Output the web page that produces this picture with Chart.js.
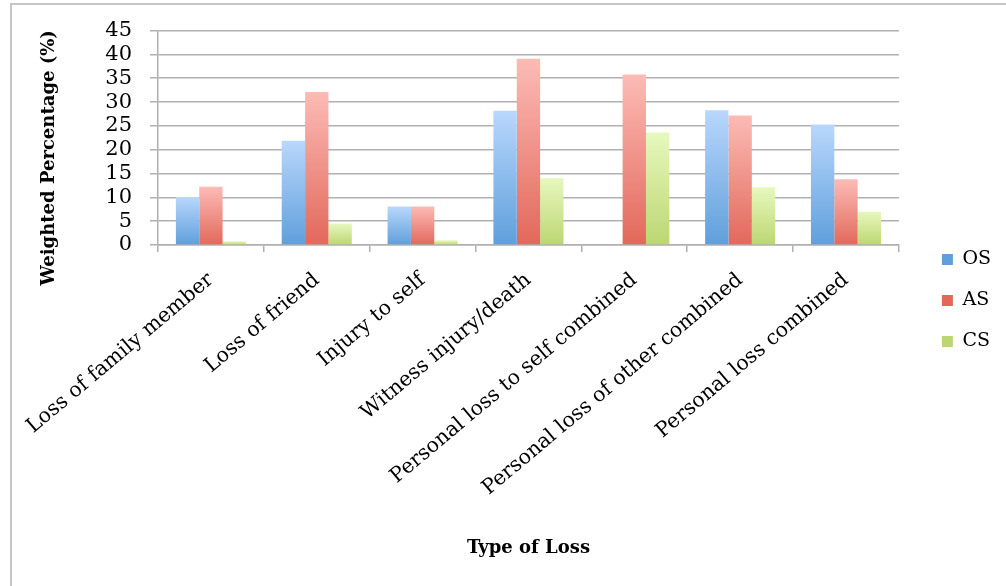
<!DOCTYPE html>
<html>
<head>
<meta charset="utf-8">
<script src="https://cdn.jsdelivr.net/npm/chart.js@4.4.1/dist/chart.umd.min.js"></script>
<style>
  html, body { margin: 0; padding: 0; background: #fff; }
  #frame { position: absolute; left: 10px; top: 3px; width: 1000px; height: 590px;
           border-left: 2px solid #c6c6c6; border-top: 2px solid #c6c6c6; }
  #wrap { position: absolute; left: 0; top: 0; width: 1006px; height: 586px; }
</style>
</head>
<body>
<div id="frame"></div>
<div id="wrap"><canvas id="c" width="1006" height="586"></canvas></div>
<script>
// Weighted percentage of each type of loss, by group
const categories = [
  'Loss of family member',
  'Loss of friend',
  'Injury to self',
  'Witness injury/death',
  'Personal loss to self combined',
  'Personal loss of other combined',
  'Personal loss combined'
];
const osValues = [10.1, 21.9, 8.1, 28.2, 0, 28.3, 25.3];
const asValues = [12.2, 32.1, 8.1, 39.1, 35.8, 27.2, 13.8];
const csValues = [0.8, 4.5, 1.0, 14.0, 23.6, 12.1, 7.0];
const yTicks = [0, 5, 10, 15, 20, 25, 30, 35, 40, 45];

const FONT = "'DejaVu Serif', serif";

// vertical gradient per bar: light at the top, deeper at the base
function barFill(light, dark, solid) {
  return function (ctx) {
    const chart = ctx.chart;
    if (ctx.type !== 'data' || !chart.chartArea || !chart.scales.y) return solid;
    const y = chart.scales.y;
    const top = y.getPixelForValue(ctx.raw);
    const base = y.getPixelForValue(0);
    if (!isFinite(top) || !isFinite(base) || Math.abs(base - top) < 1) return solid;
    const g = chart.ctx.createLinearGradient(0, top, 0, base);
    g.addColorStop(0, light);
    g.addColorStop(1, dark);
    return g;
  };
}

// rotated y-axis title
const yTitlePlugin = {
  id: 'yTitle',
  afterDraw(chart) {
    const a = chart.chartArea;
    const c = chart.ctx;
    c.save();
    c.translate(49, (a.top + a.bottom) / 2 + 20);
    c.rotate(-Math.PI / 2);
    c.font = "bold 18px " + FONT;
    c.fillStyle = '#000';
    c.textAlign = 'center';
    c.textBaseline = 'middle';
    c.fillText('Weighted Percentage (%)', 0, 0);
    c.restore();
  }
};

// nudge the legend column to the right and slightly up
const legendShift = {
  id: 'legendShift',
  afterLayout(chart) {
    const lg = chart.legend;
    if (!lg) return;
    lg.left += 21; lg.right += 21;
    lg.top -= 7; lg.bottom -= 7;
  }
};

new Chart(document.getElementById('c'), {
  type: 'bar',
  data: {
    labels: categories,
    datasets: [
      { label: 'OS', data: osValues, backgroundColor: barFill('#b9d7fc', '#5f9fdb', '#7fb2e8') },
      { label: 'AS', data: asValues, backgroundColor: barFill('#fcbbb6', '#e2685a', '#ee8a80') },
      { label: 'CS', data: csValues, backgroundColor: barFill('#e7f8bd', '#bcd673', '#d2e89a') }
    ]
  },
  options: {
    responsive: false,
    animation: false,
    devicePixelRatio: 1,
    layout: { padding: { top: 29, right: 26, bottom: 0, left: 0 } },
    datasets: { bar: { categoryPercentage: 0.662, barPercentage: 1.0, borderWidth: 0 } },
    plugins: {
      tooltip: { enabled: false },
      legend: {
        position: 'right',
        labels: {
          font: { family: FONT, size: 19 },
          color: '#000',
          boxWidth: 11,
          boxHeight: 11,
          padding: 22
        }
      }
    },
    scales: {
      x: {
        grid: { offset: true, drawOnChartArea: false, tickLength: 7, color: '#b0b0b0', lineWidth: 1.5 },
        border: { color: '#b0b0b0', width: 1.5 },
        ticks: {
          font: { family: FONT, size: 20.5 },
          color: '#000',
          minRotation: 40,
          maxRotation: 40,
          padding: 16,
          autoSkip: false
        },
        title: {
          display: true,
          text: 'Type of Loss',
          font: { family: FONT, size: 18, weight: 'bold' },
          color: '#000',
          padding: { top: 0, bottom: 27 }
        },
        afterFit(scale) { scale.height = 341; }
      },
      y: {
        min: 0,
        max: 45,
        afterBuildTicks(scale) { scale.ticks = yTicks.map(v => ({ value: v })); },
        grid: { color: '#b0b0b0', lineWidth: 1.5, tickLength: 8 },
        border: { color: '#b0b0b0', width: 1.5 },
        ticks: {
          font: { family: FONT, size: 21 },
          color: '#000',
          padding: 18,
          autoSkip: false
        },
        afterFit(scale) { scale.width = 158; }
      }
    }
  },
  plugins: [yTitlePlugin, legendShift]
});
</script>
</body>
</html>
